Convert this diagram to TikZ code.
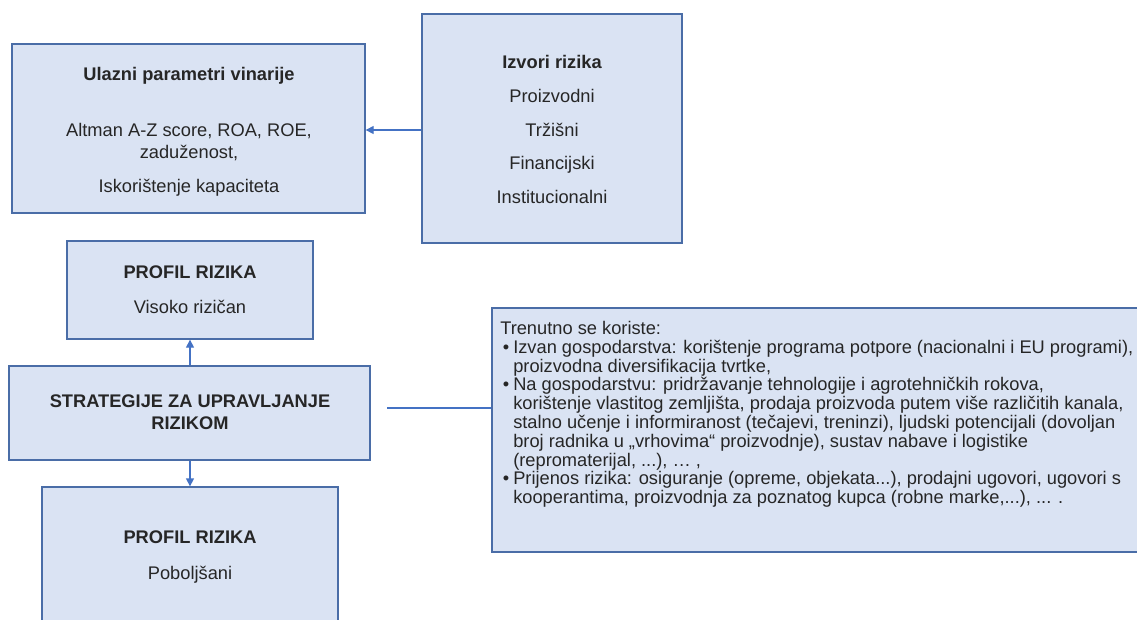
\documentclass[tikz,border=0pt]{standalone}
\usepackage{fontspec}
\setmainfont{Liberation Sans}
\usetikzlibrary{arrows.meta,fit}
\definecolor{boxfill}{HTML}{DAE3F3}
\definecolor{boxline}{HTML}{4A6DA7}
\definecolor{arrowc}{HTML}{4472C4}
\definecolor{txt}{HTML}{262626}
\newcommand{\bul}{\makebox[9.75pt][l]{\hspace{2pt}•}}
\newcommand{\ind}{\hspace*{9.75pt}}
\begin{document}
\begin{tikzpicture}[x=0.75pt,y=-0.75pt,
  frame/.style={draw=boxline,fill=boxfill,line width=1pt,inner sep=0pt},
  lbl/.style={font=\fontsize{13.7}{14.55}\selectfont,text=txt,inner sep=0pt,text height=9.8pt,text depth=0pt},
  ttl/.style={lbl,font=\fontsize{13.7}{14.55}\selectfont\bfseries},
  conn/.style={draw=arrowc,line width=1pt},
  arr/.style={conn,-{Triangle[length=6pt,width=6pt]}}]
\useasboundingbox (0,0) rectangle (1137,619);
\clip (0,0) rectangle (1137,619);
% boxes
\node[frame,fit={(12,44)(365,213)}] (ul) {};
\node[frame,fit={(422,14)(682,243)}] (iz) {};
\node[frame,fit={(67,241)(313,339)}] (pr1) {};
\node[frame,fit={(9,366)(370,460)}] (st) {};
\node[frame,fit={(42,487)(338,660)}] (pr2) {};
\node[frame,fit={(492,308)(1160,552)}] (tb) {};
% texts box 1
\node[ttl] (ult) at (189,74) {Ulazni parametri vinarije};
\node[lbl] (ul1) at (189,130) {Altman A-Z score, ROA, ROE,};
\node[lbl] (ul2) at (189,152) {zaduženost,};
\node[lbl] (ul3) at (189,186) {Iskorištenje kapaciteta};
% texts box 2
\node[ttl] (izt) at (552,62) {Izvori rizika};
\node[lbl] (iz1) at (552,96) {Proizvodni};
\node[lbl] (iz2) at (552,130) {Tržišni};
\node[lbl] (iz3) at (552,163) {Financijski};
\node[lbl] (iz4) at (552,197) {Institucionalni};
% profil 1
\node[ttl] (p1t) at (190,272) {PROFIL RIZIKA};
\node[lbl] (p1a) at (190,307) {Visoko rizičan};
% strategije
\node[ttl] (st1) at (190,401) {STRATEGIJE ZA UPRAVLJANJE};
\node[ttl] (st2) at (190,423) {RIZIKOM};
% profil 2
\node[ttl] (p2t) at (190,537) {PROFIL RIZIKA};
\node[lbl] (p2a) at (190,573) {Poboljšani};
% text box
\node[anchor=north west,align=left,inner sep=0pt,text=txt,
  font=\fontsize{13.7}{14.1}\selectfont] (tbt) at (500,321) {%
Trenutno se koriste:\\
\bul Izvan gospodarstva: korištenje programa potpore (nacionalni i EU programi),\\
\ind proizvodna diversifikacija tvrtke,\\
\bul Na gospodarstvu: pridržavanje tehnologije i agrotehničkih rokova,\\
\ind korištenje vlastitog zemljišta, prodaja proizvoda putem više različitih kanala,\\
\ind stalno učenje i informiranost (tečajevi, treninzi), ljudski potencijali (dovoljan\\
\ind broj radnika u „vrhovima“ proizvodnje), sustav nabave i logistike\\
\ind (repromaterijal, ...), … ,\\
\bul Prijenos rizika: osiguranje (opreme, objekata...), prodajni ugovori, ugovori s\\
\ind kooperantima, proizvodnja za poznatog kupca (robne marke,...), ... .};
% connectors
\coordinate (izw) at ([yshift=-1.5*0.75pt]iz.west);
\draw[arr] (izw) -- (izw -| ul.east);
\draw[arr] (st.north -| pr1.south) -- (pr1.south);
\draw[arr] (st.south -| pr2.north) -- (pr2.north);
\coordinate (ls) at (387,408);
\draw[conn] (ls) -- (ls -| tb.west);
\end{tikzpicture}
\end{document}
